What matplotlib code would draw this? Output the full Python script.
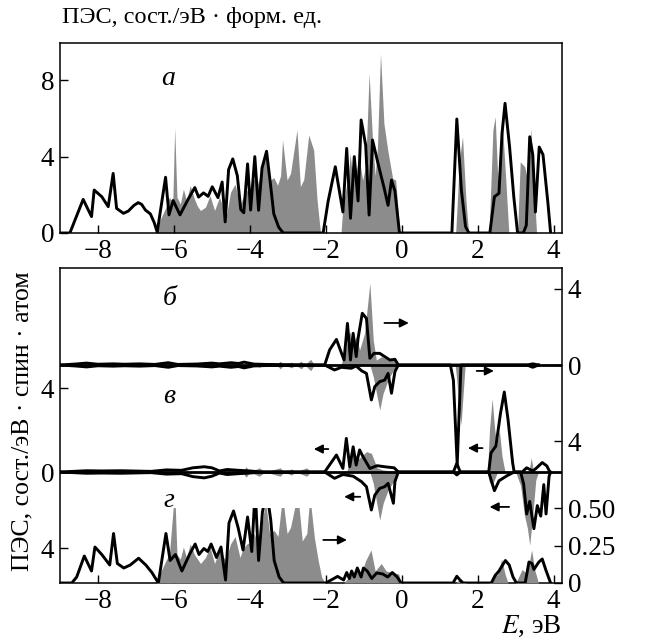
import matplotlib
matplotlib.use("Agg")
import matplotlib.pyplot as plt
from matplotlib.ticker import FixedLocator, FixedFormatter

plt.rcParams['font.family'] = ['Liberation Serif', 'DejaVu Serif']
plt.rcParams['mathtext.fontset'] = 'stix'
plt.rcParams['font.size'] = 19.5

GREY = '#8c8c8c'

# panel a: total DOS (solid) and grey DOS
a_line_e = [-9.0, -8.74, -8.39, -8.17, -8.10, -7.90, -7.73, -7.60, -7.51, -7.33, -7.20, -7.05, -6.94, -6.85,
            -6.75, -6.62, -6.52, -6.44, -6.22, -6.13, -6.02, -5.84, -5.63, -5.45, -5.35, -5.22, -5.10, -4.99,
            -4.84, -4.73, -4.65, -4.56, -4.45, -4.33, -4.24, -4.16, -4.06, -3.98, -3.87, -3.77, -3.68, -3.56,
            -3.46, -3.37, -3.24, -3.12, -2.07, -1.94, -1.75, -1.55, -1.45, -1.35, -1.25, -1.15, -1.07, -0.95,
            -0.86, -0.77, -0.62, -0.47, -0.36, -0.27, -0.18, -0.06, 1.32, 1.45, 1.57, 1.68, 1.77, 2.32, 2.44,
            2.56, 2.64, 2.72, 2.84, 2.95, 3.05, 3.20, 3.28, 3.37, 3.45, 3.52, 3.62, 3.72, 3.85, 3.92]
a_line_v = [0, 0, 1.76, 0.86, 2.25, 1.90, 1.38, 3.12, 1.29, 1.03, 1.15, 1.45, 1.59, 1.50,
            1.20, 1.00, 0.55, 0.05, 2.92, 0.95, 1.70, 0.95, 1.75, 2.38, 1.88, 2.10, 1.92, 2.42,
            1.85, 2.67, 0.58, 3.32, 3.88, 3.00, 1.23, 1.06, 3.62, 1.20, 4.00, 1.19, 3.40, 4.28,
            2.60, 1.00, 0.30, 0, 0, 1.65, 3.47, 1.10, 4.43, 0.77, 4.00, 1.68, 5.92, 4.60,
            0.94, 4.87, 3.60, 2.40, 1.45, 2.77, 2.20, 0, 0, 5.97, 2.25, 0.33, 0, 0, 1.90,
            2.08, 5.20, 6.79, 4.50, 1.90, 0, 0, 0.40, 5.04, 4.10, 1.10, 4.50, 4.10, 1.55, 0]

a_fill_e = [-6.45, -6.37, -6.21, -6.12, -6.03, -5.98, -5.92, -5.83, -5.75, -5.67, -5.57, -5.46, -5.38, -5.30,
            -5.17, -5.05, -4.93, -4.80, -4.70, -4.61, -4.51, -4.39, -4.26, -4.18, -4.08, -4.00, -3.89, -3.81,
            -3.69, -3.59, -3.48, -3.37, -3.27, -3.19, -3.14, -3.02, -2.93, -2.76, -2.67, -2.58, -2.45, -2.32,
            -2.23, -2.14, -1.60, -1.55, -1.46, -1.40, -1.36, -1.29, -1.20, -1.13, -1.03, -0.95, -0.86, -0.77,
            -0.70, -0.64, -0.56, -0.47, -0.37, -0.24, -0.16, -0.05, 1.42, 1.52, 1.60, 1.69, 1.76, 2.30, 2.40,
            2.46, 2.53, 2.64, 2.74, 2.82, 3.05, 3.12, 3.24, 3.33, 3.40, 3.48, 3.55]
a_fill_v = [0, 0.66, 1.35, 1.87, 1.60, 5.50, 1.87, 1.52, 2.30, 1.70, 2.48, 1.78, 1.40, 1.18,
            1.35, 1.96, 1.18, 1.87, 1.30, 1.00, 2.13, 2.56, 1.44, 1.87, 2.22, 2.30, 2.82, 2.48,
            3.26, 4.29, 2.74, 2.90, 2.50, 3.00, 4.87, 2.77, 3.12, 5.39, 2.43, 2.80, 5.13, 4.35,
            1.73, 0, 0, 1.38, 2.43, 3.00, 4.17, 2.77, 3.20, 4.00, 2.77, 3.50, 8.36, 4.87,
            3.00, 4.50, 9.40, 5.74, 4.35, 2.86, 2.77, 0, 0, 3.82, 5.04, 1.73, 0, 0, 5.39,
            6.09, 2.77, 6.00, 2.77, 0, 0, 3.73, 3.47, 2.60, 5.48, 2.50, 0]

# panel b (spin up > 0, spin down < 0), right axis
b_up_e = [-9.0, -8.6, -8.3, -8.0, -7.6, -7.3, -6.9, -6.5, -6.15, -5.9, -5.4, -5.0, -4.8, -4.5, -4.3, -4.15,
          -3.9, -3.6, -2.03, -1.90, -1.72, -1.52, -1.43, -1.35, -1.28, -1.20, -1.15, -1.04, -0.93, -0.84,
          -0.73, -0.58, -0.45, -0.31, -0.18, -0.09, 3.3, 3.45, 3.6]
b_up_v = [0, 0.05, 0.10, 0.04, 0.06, 0.04, 0.06, 0.03, 0.12, 0.03, 0.05, 0.10, 0.06, 0.12, 0.08, 0.15,
          0.05, 0.03, 0, 0.79, 1.34, 0.26, 2.18, 0.26, 1.66, 0.44, 1.40, 2.71, 2.44, 0.35,
          0.61, 0.61, 0.44, 0.26, 0.30, 0, 0, 0.06, 0]
b_dn_e = [-9.0, -8.6, -8.3, -8.0, -7.6, -7.3, -6.9, -6.5, -6.15, -5.9, -5.4, -5.0, -4.8, -4.5, -4.3, -4.15,
          -3.9, -3.6, -2.03, -1.77, -1.59, -1.33, -1.20, -1.06, -0.93, -0.80, -0.71, -0.58, -0.45, -0.36,
          -0.27, -0.18, -0.09, 1.28, 1.36, 1.46, 1.56, 3.3, 3.45, 3.6]
b_dn_v = [0, -0.05, -0.10, -0.04, -0.06, -0.04, -0.06, -0.03, -0.12, -0.03, -0.05, -0.10, -0.06, -0.12,
          -0.08, -0.15, -0.05, -0.03, 0, -0.26, -0.12, -0.17, -0.05, -0.30, -0.44, -1.83, -1.13, -0.87,
          -0.79, -0.44, -1.48, -0.35, 0, 0, -0.80, -5.20, 0, 0, -0.12, 0]
b_fill_up_e = [-4.1, -4.0, -3.9, -3.75, -3.65, -3.3, -3.2, -3.1, -2.9, -2.8, -2.65, -2.55, -2.4, -2.3,
               -1.60, -1.46, -1.37, -1.28, -1.20, -1.11, -0.98, -0.84, -0.75, -0.67, -0.53, -0.36, -0.18, -0.09]
b_fill_up_v = [0, 0.15, 0, 0.12, 0, 0, 0.20, 0, 0.15, 0, 0.20, 0, 0.30, 0,
               0, 0.96, 1.75, 1.13, 1.48, 0.79, 1.66, 4.28, 1.31, 0.26, 0.44, 0.26, 0.35, 0]
b_fill_dn_e = [-4.1, -4.0, -3.9, -3.75, -3.65, -3.3, -3.2, -3.1, -2.9, -2.8, -2.65, -2.55, -2.4, -2.3,
               -0.84, -0.75, -0.58, -0.49, -0.36, -0.22, -0.09, 1.41, 1.56, 1.67]
b_fill_dn_v = [0, -0.15, 0, -0.12, 0, 0, -0.20, 0, -0.15, 0, -0.20, 0, -0.30, 0,
               0, -0.61, -2.36, -1.48, -0.79, -0.26, 0, 0, -3.14, 0]

# panel v, left axis
v_up_e = [-9.0, -8.3, -7.9, -7.4, -6.6, -6.2, -5.8, -5.5, -5.2, -5.0, -4.8, -4.6, -4.3, -4.0, -3.7,
          -2.03, -1.72, -1.55, -1.46, -1.37, -1.28, -1.20, -1.11, -1.02, -0.84, -0.65, -0.45, -0.20, -0.09,
          1.36, 1.45, 1.54, 2.29, 2.35, 2.48, 2.60, 2.70, 2.80, 2.92, 2.96, 3.17, 3.29, 3.45, 3.53, 3.70,
          3.82, 3.90]
v_up_v = [0, 0.06, 0.05, 0.06, 0.03, 0.10, 0.08, 0.20, 0.25, 0.20, 0.05, 0.12, 0.08, 0.05, 0,
          0, 0.81, 0.17, 1.60, 0.25, 1.20, 0.33, 1.05, 0.73, 0.17, 0.30, 0.25, 0.20, 0,
          0, 0.41, 0, 0, 0.91, 1.24, 2.79, 3.81, 2.48, 0.44, 0, 0, 0.20, 0.05, 0.16, 0.45,
          0.29, 0]
v_dn_e = [-9.0, -8.3, -7.9, -7.4, -6.6, -6.2, -5.8, -5.5, -5.2, -5.0, -4.8, -4.6, -4.3, -4.0, -3.7,
          -2.03, -1.77, -1.55, -1.28, -1.06, -0.93, -0.80, -0.71, -0.58, -0.45, -0.36, -0.22, -0.18, -0.09,
          1.36, 1.45, 1.54, 2.29, 2.44, 2.56, 2.76, 2.96, 3.13, 3.21, 3.29, 3.37, 3.48, 3.57, 3.66, 3.74,
          3.80, 3.88, 3.92]
v_dn_v = [0, -0.06, -0.05, -0.06, -0.03, -0.10, -0.08, -0.22, -0.28, -0.20, -0.05, -0.12, -0.08, -0.05, 0,
          0, -0.30, -0.12, -0.20, -0.46, -0.70, -1.81, -1.10, -0.78, -0.70, -0.54, -1.49, -0.46, 0,
          0, -0.14, 0, 0, -0.89, -0.42, -0.19, 0, 0, -0.58, -2.00, -1.40, -2.70, -1.60, -2.10, -0.60,
          -2.00, -0.20, 0]
v_fill_up_e = [-4.2, -4.1, -4.0, -3.75, -3.6, -3.2, -3.1, -2.9, -2.8, -2.5, -2.4,
               -1.45, -1.28, -1.15, -0.93, -0.80, -0.65, -0.50, -0.09,
               2.26, 2.31, 2.38, 2.44, 2.50, 2.57, 2.64, 2.72, 3.35, 3.41, 3.47]
v_fill_up_v = [0, 0.25, 0, 0.20, 0, 0.20, 0, 0.15, 0, 0.20, 0,
               0, 1.05, 0.60, 0.97, 0.89, 0.20, 0.10, 0,
               0, 2.00, 3.50, 2.17, 1.24, 2.00, 0.76, 0, 0, 0.68, 0]
v_fill_dn_e = [-4.2, -4.1, -4.0, -3.75, -3.6, -3.2, -3.1, -2.9, -2.8, -2.5, -2.4,
               -0.84, -0.75, -0.58, -0.49, -0.36, -0.20, -0.09,
               2.26, 2.31, 2.39, 2.50, 2.55, 3.00, 3.13, 3.23, 3.31, 3.37, 3.45, 3.53, 3.60]
v_fill_dn_v = [0, -0.25, 0, -0.20, 0, -0.20, 0, -0.15, 0, -0.20, 0,
               0, -0.54, -2.29, -1.49, -0.86, -0.40, 0,
               0, -0.50, -0.60, -0.10, 0, 0, -0.65, -2.05, -2.69, -3.48, -2.05, -0.38, 0]

# panel g, right axis 0..0.5 (clipped)
g_line_e = [-9.0, -8.69, -8.56, -8.36, -8.17, -8.08, -7.90, -7.69, -7.59, -7.49, -7.32, -7.15, -6.93, -6.74,
            -6.58, -6.41, -6.21, -6.10, -5.96, -5.79, -5.59, -5.44, -5.34, -5.21, -5.11, -5.02, -4.88, -4.76,
            -4.64, -4.55, -4.43, -4.31, -4.18, -4.06, -3.95, -3.86, -3.77, -3.67, -3.56, -3.45, -3.36, -3.23,
            -3.11, -2.00, -1.69, -1.53, -1.45, -1.38, -1.32, -1.25, -1.17, -1.07, -1.01, -0.91, -0.79, -0.66,
            -0.50, -0.37, -0.25, -0.12, -0.02, 1.35, 1.45, 1.60, 2.36, 2.46, 2.56, 2.73, 2.83, 2.93, 3.02,
            3.25, 3.35, 3.43, 3.48, 3.61, 3.70, 3.79, 3.92]
g_line_v = [0, 0, 0.04, 0.18, 0.08, 0.24, 0.19, 0.12, 0.33, 0.13, 0.10, 0.12, 0.165, 0.12,
            0.07, 0, 0.33, 0.15, 0.19, 0.08, 0.19, 0.26, 0.19, 0.23, 0.21, 0.26, 0.17, 0.24,
            0.02, 0.40, 0.48, 0.37, 0.22, 0.44, 0.21, 0.62, 0.15, 0.47, 0.62, 0.42, 0.15, 0.04,
            0, 0, 0.044, 0.02, 0.07, 0.03, 0.08, 0.04, 0.10, 0.04, 0.10, 0.08, 0.03, 0.067,
            0.06, 0.04, 0.07, 0.04, 0, 0, 0.045, 0, 0, 0.05, 0.08, 0.15, 0.12, 0.04, 0,
            0, 0.14, 0.13, 0.09, 0.14, 0.16, 0.09, 0]
g_fill_e = [-6.45, -6.37, -6.21, -6.12, -5.98, -5.92, -5.83, -5.75, -5.67, -5.57, -5.46, -5.30, -5.17, -5.05,
            -4.93, -4.80, -4.64, -4.51, -4.39, -4.26, -4.18, -4.08, -4.00, -3.89, -3.81, -3.69, -3.59, -3.48,
            -3.36, -3.26, -3.14, -3.02, -2.93, -2.74, -2.62, -2.50, -2.42, -2.30, -2.20, -2.11, -2.02,
            -1.53, -1.32, -1.20, -1.08, -0.95, -0.81, -0.70, -0.54, -0.41, -0.25, -0.08, -0.02,
            1.42, 1.55, 1.70, 2.30, 2.44, 2.52, 2.63, 2.72, 2.80, 3.00, 3.17, 3.30, 3.42, 3.50, 3.60]
g_fill_v = [0, 0.06, 0.15, 0.19, 0.62, 0.19, 0.16, 0.24, 0.17, 0.26, 0.19, 0.13, 0.17, 0.24,
            0.13, 0.22, 0.15, 0.26, 0.31, 0.17, 0.23, 0.26, 0.27, 0.33, 0.28, 0.37, 0.55, 0.33,
            0.35, 0.31, 0.58, 0.33, 0.37, 0.60, 0.28, 0.33, 0.58, 0.30, 0.15, 0.04, 0,
            0, 0.06, 0.08, 0.05, 0.15, 0.22, 0.08, 0.13, 0.08, 0.07, 0.06, 0,
            0, 0.03, 0, 0, 0.07, 0.05, 0.16, 0.06, 0, 0, 0.09, 0.06, 0.22, 0.09, 0]

x_ticks = [-8, -6, -4, -2, 0, 2, 4]
x_labels = ['\u22128', '\u22126', '\u22124', '\u22122', '0', '2', '4']

W, H = 649, 641
fig = plt.figure(figsize=(W / 100, H / 100), dpi=100)


def rect(x0, y0, x1, y1):
    return [x0 / W, 1 - y1 / H, (x1 - x0) / W, (y1 - y0) / H]


def style(ax):
    ax.tick_params(direction='in', length=6, width=1, pad=4)
    for s in ax.spines.values():
        s.set_linewidth(1.1)


XL = (-9, 4.22)

# ---- panel a
ax_a = fig.add_axes(rect(60, 43, 562, 233))
ax_a.fill_between(a_fill_e, a_fill_v, color=GREY, lw=0)
ax_a.plot(a_line_e, a_line_v, color='k', lw=2.1)
ax_a.set_xlim(*XL)
ax_a.set_ylim(0, 9.95)
ax_a.set_xticks(x_ticks)
ax_a.set_xticklabels(x_labels)
ax_a.set_yticks([0, 4, 8])
style(ax_a)
ax_a.text(-6.15, 8.1, '\u0430', style='italic', ha='center', va='center', fontsize=20)

# ---- lower frame = panel b (right axis)
ax_b = fig.add_axes(rect(60, 268, 562, 583))
ax_b.fill_between(b_fill_up_e, b_fill_up_v, color=GREY, lw=0)
ax_b.fill_between(b_fill_dn_e, b_fill_dn_v, color=GREY, lw=0)
ax_b.plot(b_up_e, b_up_v, color='k', lw=2.1)
ax_b.plot(b_dn_e, b_dn_v, color='k', lw=2.1)
ax_b.axhline(0, color='k', lw=2)
ax_b.set_xlim(*XL)
ax_b.set_ylim(-(583 - 365) / 19.1, (365 - 268) / 19.1)
ax_b.set_xticks(x_ticks)
ax_b.set_xticklabels(x_labels)
ax_b.yaxis.tick_right()
ax_b.yaxis.set_major_locator(FixedLocator([4, 0, -4]))
ax_b.yaxis.set_major_formatter(FixedFormatter(['4', '0', '4']))
style(ax_b)
ax_b.tick_params(axis='y', left=False, labelleft=False, right=True, labelright=True)
ax_b.set_xlabel('$E$, \u044dВ', loc='right', labelpad=0)

# ---- panel v (left axis)
ax_v = fig.add_axes(rect(60, 268, 562, 583), sharex=ax_b)
ax_v.patch.set_visible(False)
ax_v.fill_between(v_fill_up_e, v_fill_up_v, color=GREY, lw=0)
ax_v.fill_between(v_fill_dn_e, v_fill_dn_v, color=GREY, lw=0)
ax_v.plot(v_up_e, v_up_v, color='k', lw=2.1)
ax_v.plot(v_dn_e, v_dn_v, color='k', lw=2.1)
ax_v.axhline(0, color='k', lw=2)
ax_v.set_ylim(-(583 - 472) / 21.0, (472 - 268) / 21.0)
ax_v.yaxis.set_major_locator(FixedLocator([-76 / 21.0, 0, 4]))
ax_v.yaxis.set_major_formatter(FixedFormatter(['4', '0', '4']))
for s in ax_v.spines.values():
    s.set_visible(False)
style(ax_v)
ax_v.tick_params(axis='x', bottom=False, labelbottom=False)

# ---- panel g (right axis 0..0.50)
ax_g = fig.add_axes(rect(60, 508, 562, 583), sharex=ax_b)
ax_g.patch.set_visible(False)
ax_g.fill_between(g_fill_e, g_fill_v, color=GREY, lw=0)
ax_g.plot(g_line_e, g_line_v, color='k', lw=2.1)
ax_g.set_ylim(0, 0.5)
ax_g.yaxis.tick_right()
ax_g.set_yticks([0, 0.25, 0.5])
ax_g.set_yticklabels(['0', '0.25', '0.50'])
for s in ax_g.spines.values():
    s.set_visible(False)
style(ax_g)
ax_g.tick_params(axis='x', bottom=False, labelbottom=False)

# letters and arrows (in panel b coordinates)
for lab, yy in [('\u0431', 3.5), ('\u0432', -1.66), ('\u0433', -7.07)]:
    ax_b.text(-6.12, yy, lab, style='italic', ha='center', va='center', fontsize=20)

arrows = [(-0.53, 0.26, 2.2), (1.9, 2.5, -0.31), (-1.86, -2.39, -4.4), (2.2, 1.67, -4.35),
          (-1.02, -1.59, -6.9), (2.9, 2.24, -7.43), (-2.14, -1.37, -9.16)]
for x0, x1, yy in arrows:
    ax_b.annotate('', xy=(x1, yy), xytext=(x0, yy),
                  arrowprops=dict(arrowstyle='-|>', color='k', lw=1.3, mutation_scale=13))

fig.text(62 / W, 1 - 18 / H, 'ПЭС, сост./эВ · форм. ед.', ha='left', va='center', fontsize=17.5)
fig.text(22 / W, 1 - 421 / H, 'ПЭС, сост./эВ · спин · атом', ha='center', va='center',
         rotation=90, fontsize=18.5)

fig.savefig('out.png', dpi=100)
